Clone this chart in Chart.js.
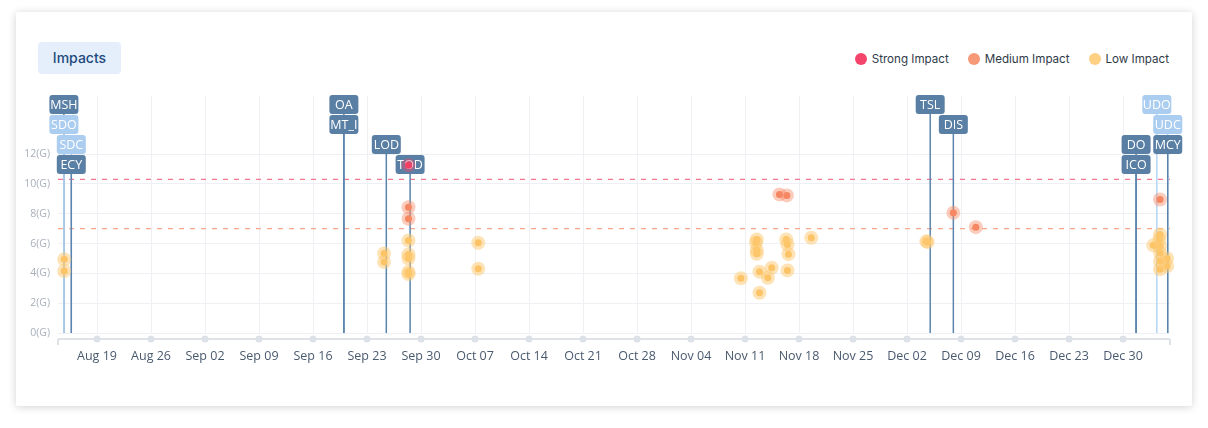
<!DOCTYPE html>
<html>
<head>
<meta charset="utf-8">
<script src="https://cdn.jsdelivr.net/npm/chart.js@4.4.1/dist/chart.umd.min.js"></script>
<style>
    body { margin: 0; background: #fff; width: 1208px; height: 428px; overflow: hidden; font-family: 'Open Sans', sans-serif; }
    .card { position: absolute; left: 16px; top: 12px; width: 1176px; height: 394px; background: #fff; border-radius: 2px; box-shadow: 0 1px 9px rgba(0, 0, 0, 0.18); }
    .title { position: absolute; left: 22px; top: 30px; width: 83px; height: 32px; line-height: 32px; text-align: center; background: #e4effb; border-radius: 4px; color: #1d4a7c; font-family: Inter, sans-serif; font-size: 14px; font-weight: 500; }
    .legend { position: absolute; right: 23px; top: 40px; display: flex; align-items: center; font-family: Inter, sans-serif; font-size: 11.6px; color: #2f3a48; }
    .legend span { display: flex; align-items: center; margin-left: 19px; }
    .legend i { width: 12px; height: 12px; border-radius: 50%; margin-right: 5px; display: inline-block; }
    canvas { position: absolute; left: 0; top: 69px; }
</style>
</head>
<body>
<div class="card">
    <div class="title">Impacts</div>
    <div class="legend">
        <span><i style="background:#f5456a"></i>Strong Impact</span>
        <span><i style="background:#f79877"></i>Medium Impact</span>
        <span><i style="background:#fed084"></i>Low Impact</span>
    </div>
    <canvas id="impacts-chart" width="1176" height="320"></canvas>
</div>
<script>
// Week tick labels (Mondays, 2024)
const weekLabels = ['Aug 19', 'Aug 26', 'Sep 02', 'Sep 09', 'Sep 16', 'Sep 23', 'Sep 30', 'Oct 07', 'Oct 14', 'Oct 21',
    'Oct 28', 'Nov 04', 'Nov 11', 'Nov 18', 'Nov 25', 'Dec 02', 'Dec 09', 'Dec 16', 'Dec 23', 'Dec 30'];
const yTicks = [0, 2, 4, 6, 8, 10, 12];

// Impact readings
const strongDates = ['2024-09-28 09:00'];
const strongValues = [11.26];

const mediumDates = ['2024-09-28 09:00', '2024-09-28 09:00', '2024-11-15 11:00', '2024-11-16 10:00',
    '2024-12-08 00:00', '2024-12-10 22:00', '2025-01-03 19:00'];
const mediumValues = [8.44, 7.66, 9.30, 9.23, 8.06, 7.10, 8.96];

const lowDates = ['2024-08-14 18:00', '2024-08-14 18:00',
    '2024-09-25 05:00', '2024-09-25 05:00',
    '2024-09-28 09:00', '2024-09-28 09:00', '2024-09-28 09:00', '2024-09-28 09:00', '2024-09-28 09:00',
    '2024-10-07 10:00', '2024-10-07 10:00',
    '2024-11-10 11:00', '2024-11-12 12:30', '2024-11-12 10:00', '2024-11-12 12:30', '2024-11-12 12:30',
    '2024-11-12 21:00', '2024-11-12 21:00', '2024-11-13 23:00', '2024-11-14 11:00',
    '2024-11-16 08:00', '2024-11-16 12:00', '2024-11-16 12:00', '2024-11-16 15:00', '2024-11-19 14:00',
    '2024-12-04 12:00', '2024-12-04 16:00',
    '2025-01-03 19:00', '2025-01-03 17:00', '2025-01-02 22:00', '2025-01-03 19:00', '2025-01-03 19:00',
    '2025-01-04 17:00', '2025-01-03 19:00', '2025-01-04 17:00', '2025-01-03 19:00'];
const lowValues = [4.94, 4.16,
    5.34, 4.76,
    6.21, 5.27, 5.00, 4.10, 3.95,
    6.05, 4.31,
    3.67, 6.28, 6.05, 5.56, 5.32,
    4.11, 2.70, 3.71, 4.38,
    6.28, 5.94, 4.20, 5.29, 6.39,
    6.15, 6.10,
    6.61, 6.28, 5.88, 5.83, 5.38,
    5.00, 4.83, 4.49, 4.27];

// Thresholds
const strongThreshold = 10.3;
const mediumThreshold = 7.0;

// Events shown as flags
const eventLabels = ['MSH', 'SDO', 'SDC', 'ECY', 'OA', 'MT_I', 'LOD', 'TOD', 'TSL', 'DIS', 'DO', 'ICO', 'UDO', 'UDC', 'MCY'];
const eventDates = ['2024-08-14 17:00', '2024-08-14 17:00', '2024-08-15 16:00', '2024-08-15 16:00',
    '2024-09-20 00:00', '2024-09-20 00:00', '2024-09-25 12:00', '2024-09-28 14:00',
    '2024-12-05 00:00', '2024-12-08 00:00', '2024-12-31 16:30', '2024-12-31 16:30',
    '2025-01-03 09:00', '2025-01-04 19:00', '2025-01-04 19:00'];
const eventShades = ['dark', 'light', 'light', 'dark', 'dark', 'dark', 'dark', 'dark',
    'dark', 'dark', 'dark', 'dark', 'light', 'light', 'dark'];

const rangeStart = '2024-08-13 22:40';
const rangeEnd = '2025-01-05 02:00';

// Days since the first week tick (Aug 19 2024)
function dayOf(s) {
    const [d, t = '00:00'] = s.split(' ');
    const [Y, M, D] = d.split('-').map(Number);
    const [h, m] = t.split(':').map(Number);
    return (Date.UTC(Y, M - 1, D, h, m) - Date.UTC(2024, 7, 19)) / 86400000;
}

function toPoints(dates, values) {
    return dates.map((d, i) => ({ x: dayOf(d), y: values[i] }));
}

const shadeColors = {
    dark: { box: '#5a7fa4', line: '#5b84ad' },
    light: { box: '#abcdf0', line: '#b5d4f3' }
};

function seriesSets(label, dates, values, core, halo) {
    const pts = toPoints(dates, values);
    return [
        { label: label, data: pts, pointRadius: 7, pointHoverRadius: 7, backgroundColor: halo, borderWidth: 0, clip: false },
        { label: label, data: pts, pointRadius: 3.5, pointHoverRadius: 3.5, backgroundColor: core, borderWidth: 0, clip: false }
    ];
}

// Flags, thresholds and the dotted x axis line
const overlayPlugin = {
    id: 'overlay',
    beforeDatasetsDraw(chart) {
        const ctx = chart.ctx;
        const area = chart.chartArea;
        const xs = chart.scales.x;
        const ys = chart.scales.y;
        ctx.save();

        // axis line with dots
        const axisY = area.bottom + 6;
        ctx.strokeStyle = '#dfe3e8';
        ctx.lineWidth = 2;
        ctx.beginPath();
        ctx.moveTo(area.left, axisY);
        ctx.lineTo(area.right, axisY);
        ctx.moveTo(area.left, axisY);
        ctx.lineTo(area.left, axisY + 6);
        ctx.moveTo(area.right, axisY);
        ctx.lineTo(area.right, axisY + 6);
        ctx.stroke();
        ctx.fillStyle = '#dde2e8';
        weekLabels.forEach((l, i) => {
            ctx.beginPath();
            ctx.arc(xs.getPixelForValue(i * 7), axisY, 3.5, 0, Math.PI * 2);
            ctx.fill();
        });

        // thresholds
        ctx.setLineDash([5, 6]);
        ctx.lineWidth = 1.3;
        [[strongThreshold, '#f47792'], [mediumThreshold, '#f8a88c']].forEach(([v, c]) => {
            const y = ys.getPixelForValue(v);
            ctx.strokeStyle = c;
            ctx.beginPath();
            ctx.moveTo(area.left, y);
            ctx.lineTo(area.right, y);
            ctx.stroke();
        });
        ctx.setLineDash([]);

        // event lines
        const rowH = 20, boxH = 19, boxW = 29;
        const top0 = area.top - 1;
        ctx.lineWidth = 1.5;
        eventLabels.forEach((l, i) => {
            const x = xs.getPixelForValue(dayOf(eventDates[i]));
            const top = top0 + (i % 4) * rowH;
            ctx.strokeStyle = shadeColors[eventShades[i]].line;
            ctx.beginPath();
            ctx.moveTo(x, top + boxH);
            ctx.lineTo(x, area.bottom);
            ctx.stroke();
        });

        // event boxes
        ctx.font = '12.5px "Open Sans"';
        ctx.textAlign = 'center';
        ctx.textBaseline = 'middle';
        eventLabels.forEach((l, i) => {
            const x = xs.getPixelForValue(dayOf(eventDates[i]));
            const top = top0 + (i % 4) * rowH;
            ctx.fillStyle = shadeColors[eventShades[i]].box;
            ctx.beginPath();
            ctx.roundRect(x - boxW / 2, top, boxW, boxH, 3);
            ctx.fill();
            ctx.fillStyle = '#ffffff';
            ctx.fillText(l, x, top + boxH / 2 + 0.5);
        });
        ctx.restore();
    }
};

const ctx = document.getElementById('impacts-chart').getContext('2d');
new Chart(ctx, {
    type: 'scatter',
    data: {
        datasets: [
            ...seriesSets('Strong Impact', strongDates, strongValues, '#f03b62', 'rgba(245, 70, 105, 0.4)'),
            ...seriesSets('Medium Impact', mediumDates, mediumValues, '#f4845f', 'rgba(247, 140, 105, 0.45)'),
            ...seriesSets('Low Impact', lowDates, lowValues, '#fcc060', 'rgba(253, 200, 110, 0.5)')
        ]
    },
    options: {
        responsive: false,
        animation: false,
        layout: { padding: { left: 0, right: 22, top: 15, bottom: 28 } },
        plugins: {
            legend: { display: false },
            tooltip: { enabled: false }
        },
        scales: {
            x: {
                type: 'linear',
                min: dayOf(rangeStart),
                max: dayOf(rangeEnd),
                afterBuildTicks: scale => {
                    scale.ticks = weekLabels.map((l, i) => ({ value: i * 7 }));
                },
                afterFit: scale => { scale.height = 40; },
                border: { display: false },
                grid: { color: '#eef0f3', drawTicks: false },
                ticks: {
                    autoSkip: false,
                    maxRotation: 0,
                    padding: 16,
                    color: '#4a5a6e',
                    font: { family: 'Open Sans', size: 12.5 },
                    callback: function(value) {
                        return weekLabels[Math.round(value / 7)];
                    }
                }
            },
            y: {
                min: 0,
                max: 15.9,
                afterBuildTicks: scale => {
                    scale.ticks = yTicks.map(v => ({ value: v }));
                },
                afterFit: scale => { scale.width = 42; },
                border: { display: false },
                grid: { color: '#eef0f3', drawTicks: false },
                ticks: {
                    padding: 8,
                    color: '#a8b0bb',
                    font: { family: 'Open Sans', size: 10.5 },
                    callback: function(value) {
                        return value + '(G)';
                    }
                }
            }
        }
    },
    plugins: [overlayPlugin]
});
</script>
</body>
</html>
